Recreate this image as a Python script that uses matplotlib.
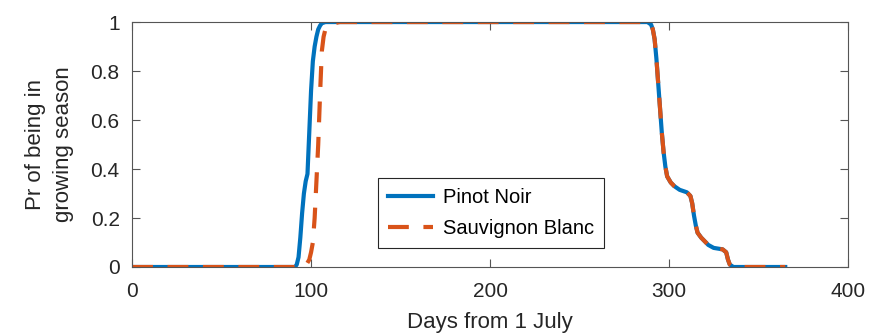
import numpy as np
import matplotlib.pyplot as plt

plt.rcParams['font.family'] = ['Liberation Sans', 'DejaVu Sans']

# growing season onset (Pinot Noir)
pn_days = [0, 91, 92, 93, 94, 95, 96, 97, 98, 99, 100, 101, 102, 103, 104, 105, 106, 108]
pn_prob = [0, 0, 0.01, 0.04, 0.12, 0.22, 0.30, 0.35, 0.38, 0.55, 0.72, 0.84, 0.90, 0.94, 0.97, 0.985, 0.995, 1]

# growing season onset (Sauvignon Blanc)
sb_days = [0, 95, 97, 99, 100, 101, 102, 103, 104, 105, 106, 107, 108, 110, 113, 116]
sb_prob = [0, 0, 0.005, 0.03, 0.06, 0.10, 0.20, 0.35, 0.50, 0.70, 0.88, 0.94, 0.97, 0.985, 0.995, 1]

# end of season, same for both cultivars
end_days = [288, 290, 291, 292, 293, 294, 295, 296, 297, 298, 299, 301, 303, 306, 310, 312, 313,
            314, 315, 316, 318, 320, 322, 325, 330, 332, 333, 334, 336, 365]
end_prob = [1, 0.99, 0.97, 0.93, 0.85, 0.75, 0.65, 0.55, 0.47, 0.41, 0.37, 0.345, 0.33, 0.315,
            0.305, 0.29, 0.26, 0.21, 0.17, 0.14, 0.12, 0.105, 0.09, 0.078, 0.072, 0.06, 0.03,
            0.01, 0, 0]

pn_x = np.array(pn_days + end_days)
pn_y = np.array(pn_prob + end_prob)
sb_x = np.array(sb_days + end_days)
sb_y = np.array(sb_prob + end_prob)

fig = plt.figure(figsize=(8.75, 3.34), dpi=100)
ax = fig.add_axes([0.151, 0.2006, 0.818, 0.7334])

ax.plot(pn_x, pn_y, color='#0072BD', lw=3, label='Pinot Noir')
ax.plot(sb_x, sb_y, color='#D95319', lw=3, linestyle=(0, (5, 3.5)), label='Sauvignon Blanc')

ax.set_xlim(0, 400)
ax.set_ylim(0, 1)
ax.set_xticks([0, 100, 200, 300, 400])
ax.set_yticks([0, 0.2, 0.4, 0.6, 0.8, 1])
ax.set_yticklabels(['0', '0.2', '0.4', '0.6', '0.8', '1'])
ax.tick_params(direction='in', top=True, right=True, length=6, labelsize=15,
               colors='#262626', width=0.8)
ax.tick_params(axis='both', color='#555555')
ax.tick_params(axis='y', pad=9)
ax.tick_params(axis='x', pad=11)
for s in ax.spines.values():
    s.set_color('#555555')
    s.set_linewidth(0.8)

ax.set_xlabel('Days from 1 July', fontsize=16, color='#262626', labelpad=8)
ax.set_ylabel('Pr of being in\ngrowing season', fontsize=16, color='#262626', labelpad=12,
              linespacing=1.45)

leg = ax.legend(loc='lower left', bbox_to_anchor=(0.344, 0.078), fontsize=14.5,
                handlelength=2.2, handletextpad=0.5, fancybox=False, framealpha=1,
                edgecolor='#262626', borderpad=0.5, labelspacing=0.6, borderaxespad=0)
leg.get_frame().set_linewidth(0.8)

fig.savefig('out.png', dpi=100)
